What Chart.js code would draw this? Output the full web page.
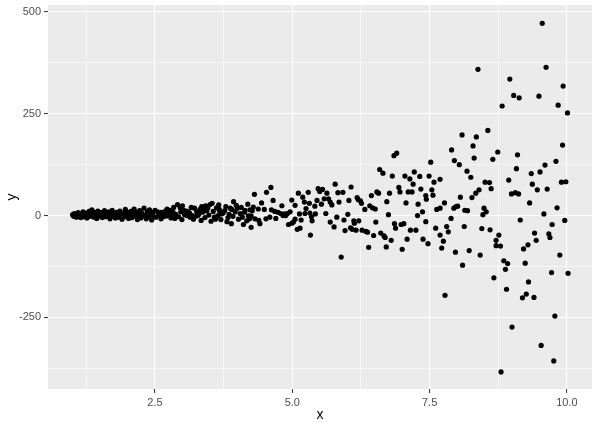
<!DOCTYPE html>
<html>
<head>
<meta charset="utf-8">
<script src="https://cdn.jsdelivr.net/npm/chart.js@4.4.1/dist/chart.umd.min.js"></script>
<style>
  html, body { margin: 0; padding: 0; background: #ffffff; }
  canvas { display: block; }
</style>
</head>
<body>
<canvas id="plot" width="600" height="429"></canvas>
<script>
'use strict';

// Points, grouped by x range: [x, y]
const band1 = [
  [1.00, 2], [1.02, -2], [1.03, 5], [1.05, 0], [1.07, -4], [1.08, 3], [1.10, 7], [1.12, -1],
  [1.13, 1], [1.15, -5], [1.17, 4], [1.19, 9], [1.21, -3], [1.22, 2], [1.24, 6], [1.26, -6],
  [1.28, 0], [1.30, 10], [1.31, 3], [1.33, -2], [1.35, 14], [1.37, 5], [1.39, -4], [1.40, 8],
  [1.42, 1], [1.44, -7], [1.46, 11], [1.48, 4], [1.50, -1], [1.52, 7], [1.54, -5], [1.56, 2],
  [1.58, 12], [1.60, -3], [1.62, 6], [1.64, 0], [1.66, 9], [1.68, -8], [1.70, 3], [1.72, 13],
  [1.74, -2], [1.76, 5], [1.78, -6], [1.80, 8], [1.82, 1], [1.84, -4], [1.86, 11], [1.88, 4],
  [1.90, -9], [1.92, 6], [1.94, 0], [1.96, 15], [1.98, -3], [2.00, 7], [2.02, -7], [2.04, 2],
  [2.06, 10], [2.08, -5], [2.10, 4], [2.12, 16], [2.14, -2], [2.16, 8], [2.18, -10], [2.20, 3],
  [2.22, 12], [2.24, -6], [2.26, 6], [2.28, -1], [2.30, 18], [2.32, 1], [2.34, -8], [2.36, 9],
  [2.38, -4], [2.40, 14], [2.42, 2], [2.44, -11], [2.46, 7], [2.48, -3],
];

const band2 = [
  [2.50, 13], [2.55, 9], [2.59, 1], [2.62, 8], [2.65, -3], [2.69, 11], [2.74, 5], [2.77, 13],
  [2.80, 3], [2.86, -7], [2.91, 27], [2.96, 19], [2.97, 9], [3.02, 13], [3.05, 5], [3.08, 0],
  [3.11, 9], [3.14, -4], [3.20, -9], [3.22, 18], [3.26, 9], [3.28, 0], [3.32, 15], [3.35, 22],
  [3.39, 18], [3.42, 24], [3.46, 18], [3.50, 27], [3.54, 30], [3.58, -4], [3.60, -9], [3.62, 19],
  [3.67, 15], [3.68, 9], [3.71, 4], [3.77, 12], [3.81, -15], [3.83, -5], [3.87, 18], [3.90, 15],
  [3.93, 34], [3.96, 9], [4.00, 18], [4.05, 5], [4.09, -4], [4.14, 13], [4.17, -13], [4.20, -1],
  [2.52, -4], [2.57, 4], [2.61, -8], [2.67, 6], [2.71, -1], [2.72, 16], [2.79, -6], [2.83, 8],
  [2.84, 20], [2.88, 3], [2.93, -3], [2.99, -10], [3.00, 24], [3.04, 2], [3.07, 11], [3.13, 6],
  [3.16, 20], [3.18, 0], [3.24, -2], [3.30, 4], [3.34, -12], [3.37, 8], [3.41, -5], [3.44, 12],
  [3.48, 1], [3.52, -14], [3.56, 10], [3.64, -1], [3.66, 26], [3.70, -10], [3.74, 6], [3.79, 22],
  [3.85, 3], [3.89, -20], [3.92, -2], [3.98, 25], [4.02, -9], [4.07, 20], [4.11, -22], [4.13, 8],
  [4.19, 28], [4.22, -8], [4.27, 12],
];

const band3 = [
  [4.61, 69], [4.53, 57], [4.31, 52], [5.78, 77], [5.47, 66], [5.55, 64], [5.50, 59], [5.11, 55],
  [5.29, 57], [5.19, 45], [5.83, 56], [5.92, 57], [5.63, 55], [5.58, 41], [5.66, 41], [5.69, 33],
  [5.72, 26], [4.65, 37], [4.44, 31], [4.99, 38], [5.22, 33], [5.31, 30], [5.45, 37], [5.53, 28],
  [5.85, 33], [5.05, 25], [4.81, 24], [4.29, 21], [4.38, 16], [4.49, 15], [4.23, 14], [4.62, 14],
  [4.68, 10], [4.74, 8], [4.79, 5], [4.86, 4], [4.91, 5], [4.96, 9], [4.83, 0], [4.88, 0],
  [5.25, 17], [5.23, 5], [5.32, 6], [5.42, 4], [5.41, 23], [5.61, 5], [5.35, -3], [4.25, -1],
  [4.32, -8], [4.39, -12], [4.52, -8], [4.59, -4], [4.70, -7], [5.13, 4], [5.05, -9], [5.02, -16],
  [4.99, -19], [5.16, -11], [5.36, -13], [5.81, -4], [5.94, -11], [5.69, -16], [4.41, -20], [4.93, -22],
  [5.76, -28], [4.25, -29], [5.14, -31], [5.09, -34], [5.96, -37], [5.33, -48], [5.89, -102],
];

const band4 = [
  [6.90, 153], [6.85, 147], [7.52, 131], [6.59, 113], [6.65, 104], [7.22, 107], [6.82, 97], [7.05, 97],
  [7.14, 90], [7.32, 96], [7.49, 97], [7.58, 82], [7.20, 77], [6.07, 70], [6.94, 69], [7.34, 65],
  [7.54, 63], [6.54, 58], [6.57, 55], [6.96, 58], [7.11, 58], [7.18, 58], [6.77, 55], [7.43, 49],
  [6.44, 49], [7.56, 50], [6.18, 44], [6.20, 39], [6.24, 36], [6.26, 30], [6.03, 37], [6.72, 34],
  [7.07, 31], [7.29, 28], [7.44, 40], [6.41, 24], [6.46, 19], [6.51, 16], [6.32, 15], [7.63, 15],
  [7.37, 9], [7.28, 0], [6.01, 3], [6.75, 2], [6.12, -13], [6.21, -13], [6.52, -16], [7.43, -15],
  [6.13, -19], [6.86, -20], [6.98, -22], [7.03, -20], [6.88, -31], [7.61, -31], [6.06, -30], [6.09, -34],
  [6.16, -36], [6.27, -36], [6.34, -39], [6.37, -41], [7.15, -36], [7.25, -36], [6.61, -43], [6.48, -49],
  [6.67, -50], [6.69, -54], [6.80, -61], [7.09, -58], [7.38, -58], [7.47, -69], [6.71, -77], [6.39, -78],
  [7.00, -83],
];

const band5 = [
  [8.38, 359], [8.96, 335], [9.03, 295], [9.13, 289], [8.82, 269], [8.56, 209], [8.09, 198], [8.35, 193],
  [7.90, 161], [8.29, 171], [8.74, 156], [9.10, 149], [7.95, 135], [8.31, 141], [8.65, 138], [8.04, 125],
  [9.08, 115], [7.69, 89], [8.18, 109], [8.25, 94], [8.94, 87], [8.51, 82], [8.59, 81], [8.62, 66],
  [8.40, 63], [8.99, 53], [9.06, 56], [9.12, 53], [8.34, 55], [8.06, 45], [8.27, 44], [7.77, 31],
  [7.69, 18], [7.94, 18], [7.98, 22], [8.01, 23], [8.14, 13], [8.19, 12], [8.49, 18], [8.53, 9],
  [8.47, 2], [7.89, -7], [9.15, -11], [7.81, -27], [8.13, -27], [8.45, -32], [8.60, -35], [7.84, -40],
  [7.69, -48], [8.76, -48], [7.75, -63], [8.71, -61], [7.72, -80], [8.71, -74], [8.79, -75], [7.97, -90],
  [8.22, -86], [8.42, -97], [8.85, -111], [8.92, -118], [8.88, -132], [8.10, -122], [8.67, -153], [8.90, -181],
  [7.78, -196], [9.00, -274], [8.80, -384],
  [9.55, 472], [9.62, 364], [9.93, 318], [9.49, 293], [9.84, 271], [10.01, 252], [9.92, 173], [9.80, 133],
  [9.60, 124], [9.35, 103], [9.51, 107], [9.37, 77], [9.90, 82], [9.98, 83], [9.46, 63], [9.64, 65],
  [9.32, 31], [9.82, 19], [9.58, 4], [9.96, -12], [9.73, -22], [9.41, -43], [9.67, -45], [9.69, -54],
  [9.44, -61], [9.29, -72], [9.21, -82], [9.87, -97], [9.24, -117], [9.72, -140], [10.02, -142], [9.30, -163],
  [9.19, -202], [9.26, -193], [9.40, -201], [9.78, -247], [9.53, -319], [9.76, -357],
];

// Axis ticks (major carry labels, minor only grid lines)
const xMajor = [2.5, 5, 7.5, 10];
const xMinor = [1.25, 3.75, 6.25, 8.75];
const yMajor = [-250, 0, 250, 500];
const yMinor = [-375, -125, 125, 375];

const PANEL_BG  = '#EBEBEB';
const TICK_TEXT = '#4D4D4D';
const TICK_MARK = '#333333';
const FONT      = '"Liberation Sans", Arial, sans-serif';

const points = [...band1, ...band2, ...band3, ...band4, ...band5].map(([x, y]) => ({ x, y }));

/** Paints the grey ggplot panel behind the grid. */
const panelBackground = {
  id: 'panelBackground',
  beforeDraw(chart) {
    const { ctx, chartArea: a } = chart;
    ctx.save();
    ctx.fillStyle = PANEL_BG;
    ctx.fillRect(a.left, a.top, a.right - a.left, a.bottom - a.top);
    ctx.restore();
  },
};

/**
 * Builds a ggplot-like axis with major and minor grid lines.
 * @param {number[]} major - Labelled tick values.
 * @param {number[]} minor - Unlabelled tick values.
 * @param {Function} fmt - Label formatter.
 */
function ggAxis(major, minor, fmt) {
  const isMajor = (ctx) => ctx.tick && major.includes(ctx.tick.value);
  return {
    afterBuildTicks: (scale) => {
      scale.ticks = [...major, ...minor].sort((a, b) => a - b).map((v) => ({ value: v }));
    },
    grid: {
      color: '#ffffff',
      lineWidth: (ctx) => (isMajor(ctx) ? 1.1 : 0.55),
      tickColor: (ctx) => (isMajor(ctx) ? TICK_MARK : 'rgba(0,0,0,0)'),
      tickLength: 4,
      tickWidth: 1,
      drawOnChartArea: true,
    },
    border: { display: false },
    ticks: {
      color: TICK_TEXT,
      font: { family: FONT, size: 11 },
      padding: 3,
      autoSkip: false,
      maxRotation: 0,
      callback: (v) => (major.includes(v) ? fmt(v) : ''),
    },
  };
}

const xAxis = ggAxis(xMajor, xMinor, (v) => v.toFixed(1));
xAxis.min = 0.552;
xAxis.max = 10.456;
xAxis.title = { display: true, text: 'x', color: '#000000', font: { family: FONT, size: 14 }, padding: { top: 0, bottom: 5 } };
xAxis.afterFit = (scale) => {
  scale.height = 40;
  scale.paddingLeft = 0;
  scale.paddingRight = 0;
};

const yAxis = ggAxis(yMajor, yMinor, (v) => String(v));
yAxis.min = -426;
yAxis.max = 517;
yAxis.title = { display: true, text: 'y', color: '#000000', font: { family: FONT, size: 14 }, padding: { top: 4, bottom: 0 } };
yAxis.afterFit = (scale) => {
  scale.width = 48;
  scale.paddingTop = 0;
  scale.paddingBottom = 0;
};

new Chart(document.getElementById('plot'), {
  type: 'scatter',
  data: {
    datasets: [
      {
        data: points,
        backgroundColor: '#000000',
        borderWidth: 0,
        pointRadius: 2.6,
        pointHoverRadius: 2.6,
      },
    ],
  },
  options: {
    responsive: false,
    animation: false,
    layout: { padding: { left: 0, right: 8, top: 5, bottom: 0 } },
    plugins: { legend: { display: false }, tooltip: { enabled: false } },
    scales: { x: xAxis, y: yAxis },
  },
  plugins: [panelBackground],
});
</script>
</body>
</html>
